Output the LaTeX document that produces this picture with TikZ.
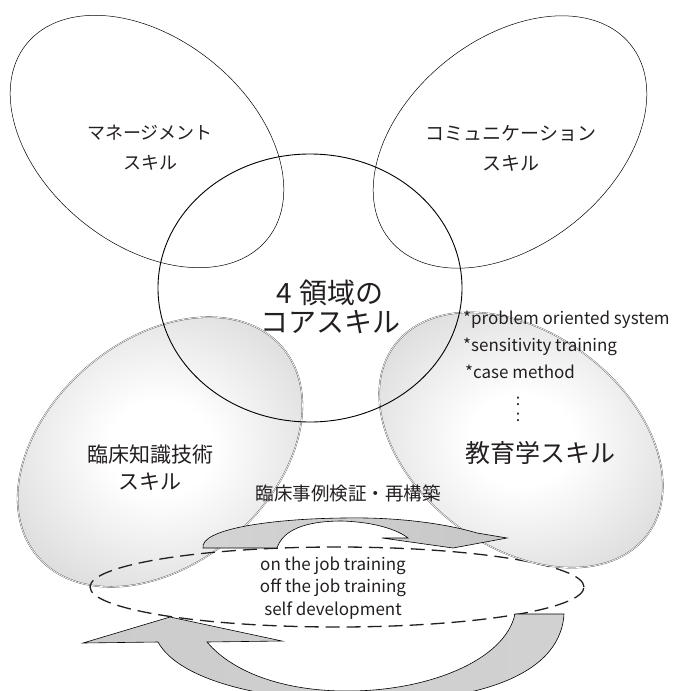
\documentclass[tikz,border=0pt]{standalone}
\usepackage{fontspec}
\setmainfont{Noto Sans CJK JP}
\usetikzlibrary{shapes.geometric}
\definecolor{txt}{HTML}{231F20}
\pgfdeclareradialshading{ellshade}{\pgfpoint{0bp}{0bp}}{color(0bp)=(white); color(8bp)=(white); color(50bp)=(black!30)}
\tikzset{
  plainell/.style={ellipse, inner sep=0pt, draw=black, line width=0.5pt},
  shadeell/.style={ellipse, inner sep=0pt, draw=black!70, double=white,
    double distance=0.7pt, line width=0.35pt, shading=ellshade},
  lbl/.style={text=txt, align=center, inner sep=0pt},
  arrowshape/.style={draw=black, line width=0.6pt, line join=miter},
}
\begin{document}
\begin{tikzpicture}[x=1pt, y=-1pt]
\useasboundingbox (0,0) rectangle (674,691);
\clip (0,0) rectangle (674,691);
% outline ellipses at top
\node[plainell, minimum width=310pt, minimum height=206pt, rotate=-39] (mgmt) at (147,141.5) {};
\node[plainell, minimum width=310pt, minimum height=206pt, rotate=39] (comm) at (510,142) {};
% shaded lower-left
\node[shadeell, minimum width=322pt, minimum height=224pt, rotate=40.5] (clin) at (160,452) {};
% dashed ellipse
\node[ellipse, inner sep=0pt, draw=txt, line width=1.3pt, dash pattern=on 14pt off 7pt,
  minimum width=494pt, minimum height=80pt] (train) at (337,587) {};
% shaded lower-right
\node[shadeell, minimum width=316pt, minimum height=214pt, rotate=-36.8] (edu) at (521,440) {};
% core circle
\node[plainell, line width=0.9pt, minimum width=304pt, minimum height=268pt] (core) at (310,288) {};
% upper arrow
\path[arrowshape, left color=black!17, middle color=black!4, right color=black!22]
  (203,548) -- (277,548)
  .. controls (283,530) and (305,521) .. (342,521)
  .. controls (375,522) and (398,530) .. (408,538)
  -- (382,538) -- (453,548) -- (507,538) -- (477,533)
  .. controls (440,522) and (390,517) .. (343,518)
  .. controls (265,519) and (200,530) .. (203,548) -- cycle;
% lower arrow
\path[arrowshape, left color=black!20, middle color=black!5, right color=black!18]
  (170,617) -- (282,641) -- (207,642)
  .. controls (235,675) and (290,692) .. (352,691)
  .. controls (430,690) and (505,660) .. (515,614)
  -- (564,614)
  .. controls (560,682) and (460,702) .. (370,702)
  .. controls (270,702) and (180,682) .. (158,642)
  -- (83,643) -- cycle;
% labels
\node[lbl, font=\fontsize{18}{30}\selectfont] (mgmtlbl) at (150,148) {マネージメント\\スキル};
\node[lbl, font=\fontsize{19}{30}\selectfont] (commlbl) at (511,148) {コミュニケーション\\スキル};
\node[lbl, font=\fontsize{28}{29}\selectfont] (corelbl) at (330,307) {4\hspace{0.3em}領域の\\コアスキル};
\node[lbl, font=\fontsize{21}{27}\selectfont] (clinlbl) at (150,468) {臨床知識技術\\スキル};
\node[lbl, font=\fontsize{25}{30}\selectfont] (edulbl) at (540,453) {教育学スキル};
\node[lbl, anchor=west, font=\fontsize{17}{19}\selectfont] (m1) at (463,320) {*problem oriented system};
\node[lbl, anchor=west, font=\fontsize{17}{19}\selectfont] (m2) at (463,347) {*sensitivity training};
\node[lbl, anchor=west, font=\fontsize{17}{19}\selectfont] (m3) at (465,372) {*case method};
\node[lbl, font=\fontsize{16}{12}\selectfont] (m4a) at (518,401) {:};
\node[lbl, font=\fontsize{16}{12}\selectfont] (m4b) at (518,417) {:};
\node[lbl, font=\fontsize{18.5}{22}\selectfont] (reflbl) at (348,493) {臨床事例検証・再構築};
\node[lbl, font=\fontsize{17}{22.5}\selectfont] (trainlbl) at (333,588) {on the job training\\off the job training\\self development};
\end{tikzpicture}
\end{document}
